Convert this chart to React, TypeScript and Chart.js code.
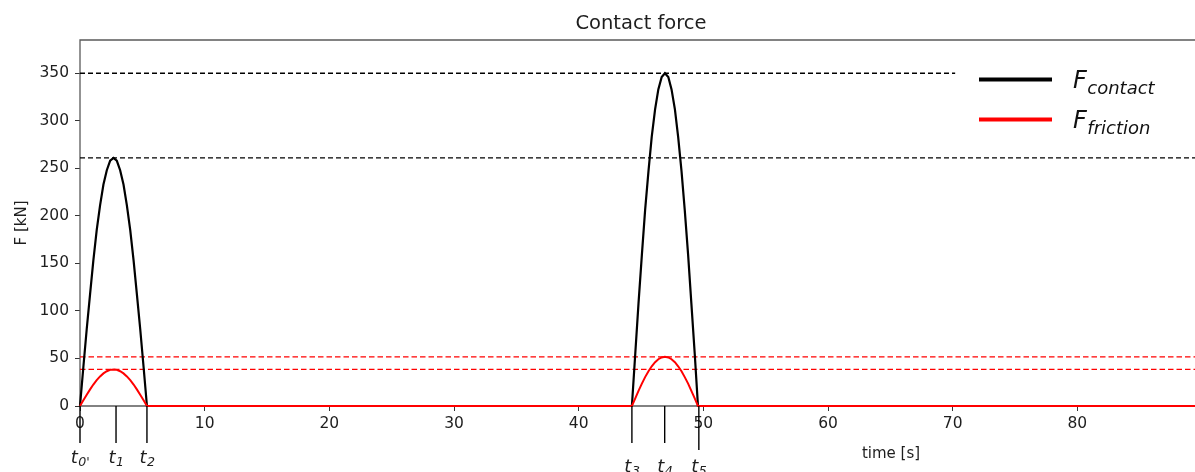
import React, { useEffect, useRef } from 'react';
import { Chart, registerables } from 'chart.js';

Chart.register(...registerables);

// ---- data ----
const pulse1Time = [0, 0.27, 0.54, 0.81, 1.07, 1.34, 1.61, 1.88, 2.15, 2.42, 2.69, 2.95, 3.22, 3.49, 3.76, 4.03, 4.3, 4.56, 4.83, 5.1, 5.37];
const pulse1Contact = [0, 41, 81, 118, 153, 185, 211, 233, 248, 258, 261, 258, 248, 233, 211, 185, 153, 118, 81, 41, 0];
const pulse1Friction = [0, 6.0, 11.9, 17.5, 22.6, 27.2, 31.1, 34.3, 36.6, 38.0, 38.5, 38.0, 36.6, 34.3, 31.1, 27.2, 22.6, 17.5, 11.9, 6.0, 0];

const pulse2Time = [44.27, 44.54, 44.8, 45.07, 45.33, 45.6, 45.86, 46.13, 46.39, 46.66, 46.92, 47.19, 47.45, 47.72, 47.98, 48.25, 48.51, 48.78, 49.04, 49.31, 49.57];
const pulse2Contact = [0, 55, 108, 159, 206, 247, 283, 312, 333, 346, 350, 346, 333, 312, 283, 247, 206, 159, 108, 55, 0];
const pulse2Friction = [0, 8.1, 16.0, 23.5, 30.4, 36.6, 41.8, 46.1, 49.2, 51.1, 51.7, 51.1, 49.2, 46.1, 41.8, 36.6, 30.4, 23.5, 16.0, 8.1, 0];

const timeEnd = 90;
const forceMax = 385;

const contactRefValues = [350, 261];
const contactRefEnds = [70.2, 90];
const frictionRefValues = [51.7, 38.5];

const xTickValues = [0, 10, 20, 30, 40, 50, 60, 70, 80];
const yTickValues = [0, 50, 100, 150, 200, 250, 300, 350];

const markSubs = ["0'", '1', '2', '3', '4', '5'];
const markTimes = [0, 2.89, 5.37, 44.27, 46.9, 49.64];
const markLow = [false, false, false, true, true, true];

const titleText = 'Contact force';
const xLabel = 'time [s]';
const yLabel = 'F [kN]';
const legendSubs = ['contact', 'friction'];

// ---- build series ----
function buildSeries(values1: number[], values2: number[]) {
  const pts: { x: number; y: number }[] = [];
  pulse1Time.forEach((t, i) => pts.push({ x: t, y: values1[i] }));
  pulse2Time.forEach((t, i) => pts.push({ x: t, y: values2[i] }));
  pts.push({ x: timeEnd, y: 0 });
  return pts;
}

const FONT = '"DejaVu Sans", sans-serif';
const TEXT = '#1e1e1e';

function drawSubText(
  ctx: CanvasRenderingContext2D,
  x: number,
  baseline: number,
  main: string,
  sub: string,
  mainSize: number,
  subSize: number,
  drop: number,
  center: boolean
) {
  ctx.font = `italic ${mainSize}px ${FONT}`;
  const wm = ctx.measureText(main).width;
  ctx.font = `italic ${subSize}px ${FONT}`;
  const ws = ctx.measureText(sub).width;
  const start = center ? x - (wm + ws) / 2 : x;
  ctx.textAlign = 'left';
  ctx.textBaseline = 'alphabetic';
  ctx.font = `italic ${mainSize}px ${FONT}`;
  ctx.fillText(main, start, baseline);
  ctx.font = `italic ${subSize}px ${FONT}`;
  ctx.fillText(sub, start + wm + 0.5, baseline + drop);
}

const decorPlugin = {
  id: 'decor',
  beforeDatasetsDraw(chart: any) {
    const { ctx, chartArea } = chart;
    ctx.save();
    ctx.strokeStyle = '#5a5a5a';
    ctx.lineWidth = 1.3;
    ctx.beginPath();
    ctx.moveTo(chartArea.left, chartArea.bottom);
    ctx.lineTo(chartArea.left, chartArea.top);
    ctx.lineTo(chartArea.right, chartArea.top);
    ctx.moveTo(chartArea.left, chartArea.bottom);
    ctx.lineTo(chartArea.right, chartArea.bottom);
    ctx.stroke();
    ctx.restore();
  },
  afterDraw(chart: any) {
    const { ctx, chartArea } = chart;
    const xs = chart.scales.x;
    ctx.save();
    ctx.fillStyle = TEXT;

    // title
    ctx.font = `19.5px ${FONT}`;
    ctx.textAlign = 'center';
    ctx.textBaseline = 'alphabetic';
    ctx.fillText(titleText, (chartArea.left + chartArea.right) / 2, 29);

    // x label
    ctx.font = `15px ${FONT}`;
    ctx.fillText(xLabel, 891, 458);

    // y label
    ctx.save();
    ctx.translate(26, (chartArea.top + chartArea.bottom) / 2);
    ctx.rotate(-Math.PI / 2);
    ctx.textAlign = 'center';
    ctx.fillText(yLabel, 0, 0);
    ctx.restore();

    // time marks
    ctx.strokeStyle = '#000';
    ctx.lineWidth = 1.4;
    markTimes.forEach((t, i) => {
      const px = xs.getPixelForValue(t);
      ctx.beginPath();
      ctx.moveTo(px, chartArea.bottom);
      ctx.lineTo(px, chartArea.bottom + (i === markTimes.length - 1 ? 44 : 37));
      ctx.stroke();
      ctx.fillStyle = TEXT;
      drawSubText(ctx, px, markLow[i] ? 472 : 463, 't', markSubs[i], 18, 12.6, 3, true);
    });

    // legend
    const legendColors = ['#000000', '#ff0000'];
    const legendY = [79.5, 119.5];
    legendSubs.forEach((s, i) => {
      ctx.strokeStyle = legendColors[i];
      ctx.lineWidth = 4;
      ctx.beginPath();
      ctx.moveTo(979, legendY[i]);
      ctx.lineTo(1052, legendY[i]);
      ctx.stroke();
      ctx.fillStyle = '#111';
      drawSubText(ctx, 1073, legendY[i] + 8, 'F', s, 24, 18, 6, false);
    });
    ctx.restore();
  },
};

export default function App() {
  const ref = useRef<HTMLCanvasElement>(null);
  useEffect(() => {
    const datasets: any[] = [
      {
        label: 'F_friction',
        data: buildSeries(pulse1Friction, pulse2Friction),
        borderColor: '#ff0000',
        borderWidth: 2,
        pointRadius: 0,
        tension: 0,
        clip: false,
      },
      {
        label: 'F_contact',
        data: buildSeries(pulse1Contact, pulse2Contact),
        borderColor: '#000000',
        borderWidth: 2.2,
        pointRadius: 0,
        tension: 0,
        clip: false,
      },
    ];
    frictionRefValues.forEach((v) => {
      datasets.push({
        label: 'friction ref',
        data: [{ x: 0, y: v }, { x: timeEnd, y: v }],
        borderColor: '#ff0000',
        borderWidth: 1.4,
        borderDash: [5.5, 3],
        pointRadius: 0,
        clip: false,
      });
    });
    contactRefValues.forEach((v, i) => {
      datasets.push({
        label: 'contact ref',
        data: [{ x: 0, y: v }, { x: contactRefEnds[i], y: v }],
        borderColor: '#000000',
        borderWidth: 1.3,
        borderDash: [5, 3],
        pointRadius: 0,
        clip: false,
      });
    });

    const chart = new Chart(ref.current as HTMLCanvasElement, {
      type: 'line',
      data: { datasets },
      options: {
        animation: false,
        responsive: true,
        maintainAspectRatio: false,
        layout: { padding: { top: 40, left: 0, right: 0, bottom: 0 } },
        plugins: {
          legend: { display: false },
          title: { display: false },
          tooltip: { enabled: false },
        },
        scales: {
          x: {
            type: 'linear',
            min: 0,
            max: timeEnd,
            border: { display: false },
            grid: { display: true, drawOnChartArea: false, drawTicks: true, tickLength: 5, color: '#333', lineWidth: 1 },
            ticks: { color: TEXT, font: { family: FONT, size: 15.5 }, padding: 4, maxRotation: 0, autoSkip: false },
            afterBuildTicks: (scale: any) => {
              scale.ticks = xTickValues.map((v) => ({ value: v }));
            },
            afterFit: (scale: any) => {
              scale.height = 66;
            },
          },
          y: {
            type: 'linear',
            min: 0,
            max: forceMax,
            border: { display: false },
            grid: { display: true, drawOnChartArea: false, drawTicks: true, tickLength: 5, color: '#333', lineWidth: 1 },
            ticks: { color: TEXT, font: { family: FONT, size: 15.5 }, padding: 6, autoSkip: false },
            afterBuildTicks: (scale: any) => {
              scale.ticks = yTickValues.map((v) => ({ value: v }));
            },
            afterFit: (scale: any) => {
              scale.width = 80;
            },
          },
        },
      } as any,
      plugins: [decorPlugin],
    });
    return () => chart.destroy();
  }, []);

  return (
    <div style={{ position: 'fixed', left: 0, top: 0, width: 1195, height: 472, overflow: 'hidden', background: '#fff' }}>
      <div style={{ position: 'relative', width: 1202, height: 472 }}>
        <canvas ref={ref} />
      </div>
    </div>
  );
}
